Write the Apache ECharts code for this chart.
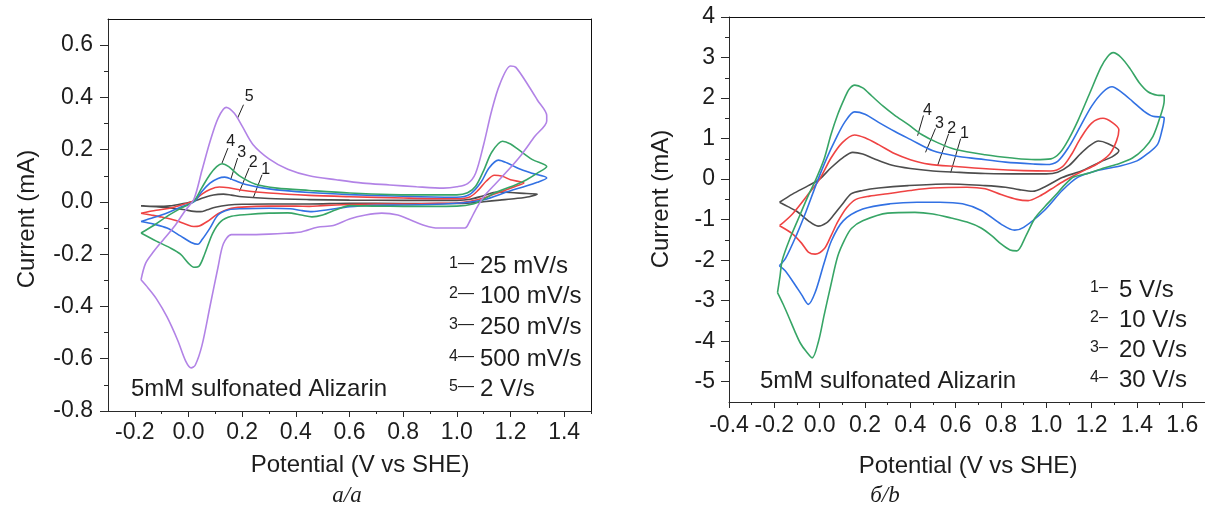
<!DOCTYPE html>
<html>
<head>
<meta charset="utf-8">
<title>Cyclic voltammetry of 5mM sulfonated Alizarin</title>
<script src="https://cdn.jsdelivr.net/npm/echarts@6/dist/echarts.min.js"></script>
<style>
  html, body { margin: 0; padding: 0; background: #fff; }
  #chart { width: 1205px; height: 521px; }
</style>
</head>
<body>
<div id="chart"></div>
<script>
// ---------- Panel а/a : slow scans, [potential V vs SHE, current mA] ----------
const cvA_25mV = [[-0.177,-0.015],[-0.12,-0.017],[-0.07,-0.015],[-0.02,-0.006],[0.02,0.003],[0.05,0.014],[0.08,0.024],[0.11,0.029],[0.13,0.03],[0.16,0.026],[0.2,0.02],[0.3,0.013],[0.45,0.009],[0.6,0.007],[0.8,0.006],[1.0,0.006],[1.05,0.01],[1.1,0.024],[1.15,0.038],[1.2,0.036],[1.26,0.032],[1.3,0.03],
  [1.27,0.02],[1.22,0.013],[1.16,0.007],[1.1,0.001],[1.05,-0.004],[1.0,-0.006],[0.8,-0.006],[0.6,-0.005],[0.45,-0.008],[0.3,-0.008],[0.2,-0.009],[0.15,-0.012],[0.1,-0.02],[0.07,-0.03],[0.045,-0.037],[0.02,-0.036],[-0.02,-0.029],[-0.07,-0.023],[-0.12,-0.018],[-0.177,-0.015]];
const cvA_100mV = [[-0.177,-0.043],[-0.12,-0.032],[-0.07,-0.024],[-0.02,-0.01],[0.02,0.005],[0.05,0.03],[0.08,0.048],[0.115,0.057],[0.15,0.054],[0.2,0.045],[0.3,0.034],[0.45,0.025],[0.6,0.02],[0.8,0.015],[1.0,0.012],[1.05,0.02],[1.08,0.045],[1.11,0.08],[1.14,0.102],[1.17,0.098],[1.2,0.085],[1.25,0.072],
  [1.22,0.06],[1.18,0.045],[1.14,0.03],[1.1,0.015],[1.05,0.002],[1.0,-0.004],[0.9,-0.006],[0.8,-0.008],[0.7,-0.008],[0.6,-0.01],[0.5,-0.014],[0.45,-0.017],[0.4,-0.016],[0.3,-0.016],[0.2,-0.02],[0.15,-0.027],[0.11,-0.045],[0.07,-0.075],[0.04,-0.092],[0.02,-0.094],[-0.01,-0.085],[-0.05,-0.07],[-0.1,-0.058],[-0.14,-0.05],[-0.177,-0.043]];
const cvA_250mV = [[-0.177,-0.075],[-0.13,-0.06],[-0.08,-0.042],[-0.03,-0.02],[0.02,0.0],[0.05,0.04],[0.08,0.072],[0.11,0.09],[0.135,0.095],[0.17,0.083],[0.21,0.068],[0.3,0.05],[0.45,0.036],[0.6,0.028],[0.8,0.022],[1.0,0.018],[1.05,0.03],[1.09,0.075],[1.12,0.13],[1.155,0.16],[1.19,0.148],[1.23,0.128],[1.28,0.11],[1.335,0.092],
  [1.3,0.075],[1.25,0.058],[1.2,0.043],[1.15,0.025],[1.1,0.008],[1.05,0.0],[1.0,-0.005],[0.9,-0.01],[0.8,-0.012],[0.7,-0.013],[0.6,-0.018],[0.52,-0.03],[0.46,-0.037],[0.42,-0.033],[0.38,-0.026],[0.3,-0.024],[0.2,-0.026],[0.15,-0.03],[0.11,-0.05],[0.08,-0.1],[0.05,-0.145],[0.035,-0.162],[0.01,-0.155],[-0.03,-0.13],[-0.08,-0.1],[-0.13,-0.085],[-0.177,-0.075]];
const cvA_500mV = [[-0.177,-0.119],[-0.13,-0.09],[-0.08,-0.055],[-0.03,-0.025],[0.02,0.003],[0.05,0.055],[0.08,0.105],[0.105,0.135],[0.125,0.146],[0.15,0.135],[0.19,0.1],[0.25,0.068],[0.33,0.053],[0.45,0.044],[0.6,0.034],[0.75,0.028],[0.9,0.027],[1.0,0.027],[1.04,0.035],[1.07,0.06],[1.1,0.12],[1.13,0.19],[1.17,0.232],[1.2,0.222],[1.23,0.2],[1.28,0.163],[1.335,0.136],
  [1.3,0.11],[1.26,0.085],[1.22,0.066],[1.18,0.05],[1.14,0.034],[1.1,0.01],[1.06,-0.008],[1.0,-0.016],[0.9,-0.017],[0.8,-0.017],[0.7,-0.016],[0.6,-0.014],[0.55,-0.03],[0.5,-0.05],[0.46,-0.057],[0.42,-0.05],[0.37,-0.042],[0.3,-0.043],[0.22,-0.048],[0.16,-0.055],[0.12,-0.075],[0.09,-0.12],[0.06,-0.2],[0.04,-0.245],[0.02,-0.25],[0.0,-0.235],[-0.03,-0.2],[-0.07,-0.175],[-0.12,-0.15],[-0.177,-0.119]];
const cvA_2V = [[-0.177,-0.298],[-0.16,-0.235],[-0.13,-0.19],[-0.09,-0.14],[-0.05,-0.09],[-0.01,-0.03],[0.02,0.01],[0.05,0.12],[0.08,0.23],[0.11,0.32],[0.14,0.362],[0.17,0.34],[0.2,0.29],[0.24,0.22],[0.3,0.165],[0.37,0.125],[0.45,0.1],[0.55,0.085],[0.65,0.072],[0.75,0.065],[0.85,0.058],[0.95,0.053],[1.0,0.058],[1.04,0.07],[1.07,0.11],[1.1,0.22],[1.13,0.35],[1.16,0.45],[1.2,0.52],[1.22,0.515],[1.27,0.44],[1.3,0.39],[1.335,0.33],
  [1.335,0.31],[1.29,0.25],[1.24,0.18],[1.19,0.12],[1.14,0.065],[1.1,0.02],[1.07,-0.03],[1.05,-0.07],[1.03,-0.1],[0.98,-0.1],[0.93,-0.1],[0.88,-0.09],[0.83,-0.07],[0.78,-0.05],[0.72,-0.043],[0.66,-0.05],[0.6,-0.065],[0.54,-0.09],[0.48,-0.097],[0.42,-0.115],[0.36,-0.12],[0.3,-0.123],[0.22,-0.125],[0.16,-0.125],[0.13,-0.16],[0.11,-0.25],[0.08,-0.4],[0.05,-0.55],[0.025,-0.625],[0.01,-0.635],[-0.01,-0.61],[-0.04,-0.53],[-0.08,-0.44],[-0.12,-0.37],[-0.15,-0.33],[-0.177,-0.298]];

// ---------- Panel б/b : fast scans ----------
const cvB_5V = [[-0.177,-0.57],[-0.12,-0.37],[-0.05,-0.16],[0.0,0.0],[0.05,0.28],[0.1,0.52],[0.146,0.66],[0.19,0.62],[0.24,0.5],[0.32,0.34],[0.4,0.26],[0.5,0.2],[0.6,0.17],[0.73,0.14],[0.9,0.13],[1.0,0.13],[1.05,0.17],[1.1,0.33],[1.15,0.62],[1.19,0.82],[1.23,0.94],[1.27,0.88],[1.32,0.7],
  [1.29,0.55],[1.24,0.43],[1.16,0.21],[1.07,0.04],[0.99,-0.2],[0.94,-0.3],[0.88,-0.26],[0.82,-0.2],[0.73,-0.16],[0.56,-0.12],[0.39,-0.16],[0.26,-0.22],[0.19,-0.28],[0.14,-0.36],[0.1,-0.62],[0.06,-0.9],[0.03,-1.08],[-0.007,-1.16],[-0.05,-1.03],[-0.1,-0.8],[-0.14,-0.68],[-0.177,-0.57]];
const cvB_10V = [[-0.177,-1.15],[-0.12,-0.86],[-0.05,-0.37],[0.0,0.0],[0.05,0.52],[0.1,0.9],[0.154,1.09],[0.2,1.02],[0.26,0.85],[0.33,0.63],[0.4,0.48],[0.48,0.37],[0.6,0.31],[0.75,0.25],[0.9,0.21],[1.02,0.2],[1.07,0.3],[1.11,0.6],[1.15,1.0],[1.2,1.38],[1.25,1.5],[1.29,1.4],[1.32,1.22],
  [1.31,0.95],[1.28,0.62],[1.22,0.36],[1.15,0.17],[1.08,-0.04],[1.02,-0.25],[0.97,-0.42],[0.92,-0.53],[0.87,-0.5],[0.8,-0.38],[0.73,-0.24],[0.65,-0.2],[0.5,-0.22],[0.4,-0.28],[0.3,-0.36],[0.22,-0.42],[0.16,-0.5],[0.12,-0.7],[0.08,-1.05],[0.05,-1.4],[0.02,-1.72],[-0.02,-1.85],[-0.05,-1.8],[-0.08,-1.58],[-0.12,-1.35],[-0.177,-1.15]];
const cvB_20V = [[-0.178,-2.14],[-0.15,-1.95],[-0.1,-1.35],[-0.06,-0.8],[-0.01,-0.05],[0.03,0.5],[0.07,0.98],[0.11,1.4],[0.154,1.66],[0.2,1.6],[0.26,1.4],[0.33,1.18],[0.4,0.98],[0.5,0.7],[0.6,0.57],[0.7,0.5],[0.82,0.42],[0.95,0.37],[1.0,0.36],[1.05,0.44],[1.1,0.8],[1.15,1.3],[1.2,1.8],[1.25,2.15],[1.29,2.28],[1.33,2.15],[1.38,1.92],[1.43,1.68],[1.47,1.55],[1.52,1.51],
  [1.51,1.2],[1.49,0.85],[1.445,0.62],[1.4,0.45],[1.33,0.33],[1.225,0.21],[1.14,0.05],[1.07,-0.28],[0.99,-0.78],[0.9,-1.19],[0.86,-1.26],[0.8,-1.11],[0.715,-0.78],[0.63,-0.61],[0.53,-0.57],[0.43,-0.57],[0.31,-0.61],[0.19,-0.74],[0.104,-1.03],[0.052,-1.52],[0.018,-2.1],[-0.02,-2.8],[-0.05,-3.09],[-0.08,-2.85],[-0.1,-2.68],[-0.152,-2.26],[-0.178,-2.14]];
const cvB_30V = [[-0.186,-2.8],[-0.175,-2.4],[-0.165,-2.0],[-0.13,-1.45],[-0.085,-0.86],[-0.05,-0.4],[-0.016,0.0],[0.02,0.5],[0.05,1.1],[0.08,1.6],[0.11,2.0],[0.13,2.22],[0.155,2.32],[0.19,2.25],[0.23,2.05],[0.28,1.8],[0.33,1.58],[0.39,1.35],[0.45,1.1],[0.52,0.9],[0.6,0.73],[0.73,0.6],[0.85,0.52],[0.95,0.48],[1.02,0.5],[1.06,0.65],[1.1,1.0],[1.14,1.45],[1.19,2.1],[1.24,2.75],[1.27,3.02],[1.295,3.12],[1.33,3.0],[1.37,2.72],[1.41,2.38],[1.45,2.15],[1.49,2.07],[1.52,2.06],
  [1.52,1.94],[1.5,1.5],[1.47,1.05],[1.43,0.75],[1.38,0.52],[1.32,0.38],[1.25,0.27],[1.19,0.15],[1.12,0.05],[1.08,-0.15],[1.04,-0.4],[0.99,-0.7],[0.95,-0.96],[0.91,-1.4],[0.87,-1.77],[0.84,-1.75],[0.8,-1.6],[0.76,-1.4],[0.71,-1.2],[0.65,-1.06],[0.58,-0.96],[0.5,-0.86],[0.42,-0.82],[0.3,-0.84],[0.19,-1.03],[0.14,-1.22],[0.11,-1.5],[0.08,-1.9],[0.05,-2.6],[0.02,-3.35],[-0.005,-4.0],[-0.033,-4.41],[-0.06,-4.25],[-0.085,-4.05],[-0.11,-3.75],[-0.135,-3.42],[-0.16,-3.1],[-0.186,-2.8]];

// ---------- tick values ----------
const ticksA_x = [-0.2, 0.0, 0.2, 0.4, 0.6, 0.8, 1.0, 1.2, 1.4];
const minorA_x = [-0.1, 0.1, 0.3, 0.5, 0.7, 0.9, 1.1, 1.3, 1.5];
const ticksA_y = [-0.8, -0.6, -0.4, -0.2, 0.0, 0.2, 0.4, 0.6];
const minorA_y = [-0.7, -0.5, -0.3, -0.1, 0.1, 0.3, 0.5];
const ticksB_x = [-0.4, -0.2, 0.0, 0.2, 0.4, 0.6, 0.8, 1.0, 1.2, 1.4, 1.6];
const minorB_x = [-0.3, -0.1, 0.1, 0.3, 0.5, 0.7, 0.9, 1.1, 1.3, 1.5];
const ticksB_y = [-5, -4, -3, -2, -1, 0, 1, 2, 3, 4];
const minorB_y = [-4.5, -3.5, -2.5, -1.5, -0.5, 0.5, 1.5, 2.5, 3.5];

// ---------- legends ----------
const legendA = ['25 mV/s', '100 mV/s', '250 mV/s', '500 mV/s', '2 V/s'];
const legendB = ['5 V/s', '10 V/s', '20 V/s', '30 V/s'];
const colorsA = ['#4d4d4d', '#ef4343', '#3271e3', '#37a566', '#b283e6'];
const colorsB = ['#4d4d4d', '#ef4343', '#3271e3', '#37a566'];

const FONT = "'Liberation Sans', Arial, Helvetica, sans-serif";
const INK = '#1d1d1d';
const AXIS = '#2a2a2a';

const fmt1 = v => (Math.round(v * 10) / 10).toFixed(1);
const fmt0 = v => String(Math.round(v));

function mainX(grid, min, max, ticks, minor, margin) {
  return [
    { type: 'value', gridIndex: grid, position: 'bottom', min, max,
      axisLine: { show: true, onZero: false, lineStyle: { color: AXIS, width: 1 } },
      axisTick: { show: true, inside: false, length: 6, customValues: ticks, lineStyle: { color: AXIS } },
      axisLabel: { show: true, customValues: ticks, margin, fontSize: 23, fontFamily: FONT, color: INK, formatter: fmt1 },
      splitLine: { show: false } },
    { type: 'value', gridIndex: grid, position: 'bottom', min, max,
      axisLine: { show: false, onZero: false },
      axisTick: { show: true, inside: false, length: 3, customValues: minor, lineStyle: { color: AXIS } },
      axisLabel: { show: false }, splitLine: { show: false } }
  ];
}
function mainY(grid, min, max, ticks, minor, margin, fmt) {
  return [
    { type: 'value', gridIndex: grid, position: 'left', min, max,
      axisLine: { show: true, onZero: false, lineStyle: { color: AXIS, width: 1 } },
      axisTick: { show: true, inside: false, length: 8, customValues: ticks, lineStyle: { color: AXIS } },
      axisLabel: { show: true, customValues: ticks, margin, fontSize: 23, fontFamily: FONT, color: INK, formatter: fmt },
      splitLine: { show: false } },
    { type: 'value', gridIndex: grid, position: 'left', min, max,
      axisLine: { show: false, onZero: false },
      axisTick: { show: true, inside: false, length: 4, customValues: minor, lineStyle: { color: AXIS } },
      axisLabel: { show: false }, splitLine: { show: false } }
  ];
}
function frame(grid, min, max, position) {
  return { type: 'value', gridIndex: grid, position, min, max,
    axisLine: { show: true, onZero: false, lineStyle: { color: '#111', width: 1 } },
    axisTick: { show: false }, axisLabel: { show: false }, splitLine: { show: false } };
}

const xAxes = [
  ...mainX(0, -0.3, 1.5, ticksA_x, minorA_x, 10), frame(0, -0.3, 1.5, 'top'),
  ...mainX(1, -0.4, 1.7, ticksB_x, minorB_x, 12), frame(1, -0.4, 1.7, 'top')
];
const yAxes = [
  ...mainY(0, -0.8, 0.7, ticksA_y, minorA_y, 15, fmt1), frame(0, -0.8, 0.7, 'right'),
  ...mainY(1, -5.5, 4, ticksB_y, minorB_y, 14, fmt0)
];

function cv(name, data, color, xi, yi) {
  return { type: 'line', name, data, xAxisIndex: xi, yAxisIndex: yi,
    showSymbol: false, symbol: 'none', smooth: 0.3, clip: true,
    lineStyle: { color, width: 1.6 }, silent: true };
}

const series = [
  cv(legendA[0], cvA_25mV, colorsA[0], 0, 0),
  cv(legendA[1], cvA_100mV, colorsA[1], 0, 0),
  cv(legendA[2], cvA_250mV, colorsA[2], 0, 0),
  cv(legendA[3], cvA_500mV, colorsA[3], 0, 0),
  cv(legendA[4], cvA_2V, colorsA[4], 0, 0),
  cv(legendB[0], cvB_5V, colorsB[0], 3, 3),
  cv(legendB[1], cvB_10V, colorsB[1], 3, 3),
  cv(legendB[2], cvB_20V, colorsB[2], 3, 3),
  cv(legendB[3], cvB_30V, colorsB[3], 3, 3)
];

const chart = echarts.init(document.getElementById('chart'), null, { renderer: 'canvas' });
chart.setOption({
  animation: false,
  backgroundColor: '#fff',
  grid: [
    { left: 108, top: 19, right: 614, bottom: 110 },
    { left: 729, top: 17, right: -1, bottom: 119 }
  ],
  xAxis: xAxes,
  yAxis: yAxes,
  series
});

// curve number tags with leader lines, anchored in data space
const tagsA = [
  { label: '5', at: [0.226, 0.404], from: [0.205, 0.372], to: [0.183, 0.321] },
  { label: '4', at: [0.157, 0.232], from: [0.147, 0.206], to: [0.125, 0.149] },
  { label: '3', at: [0.198, 0.187], from: [0.183, 0.168], to: [0.157, 0.085] },
  { label: '2', at: [0.241, 0.151], from: [0.226, 0.130], to: [0.190, 0.040] },
  { label: '1', at: [0.288, 0.123], from: [0.274, 0.104], to: [0.241, 0.015] }
];
const tagsB = [
  { label: '4', at: [0.476, 1.69], from: [0.458, 1.57], to: [0.432, 1.07] },
  { label: '3', at: [0.529, 1.37], from: [0.511, 1.25], to: [0.467, 0.66] },
  { label: '2', at: [0.582, 1.25], from: [0.569, 1.12], to: [0.520, 0.33] },
  { label: '1', at: [0.639, 1.12], from: [0.622, 1.00], to: [0.578, 0.16] }
];

function text(x, y, str, font, align, vAlign, extra) {
  return Object.assign({ type: 'text', x, y, silent: true,
    style: { text: str, font, fill: INK, textAlign: align, textVerticalAlign: vAlign, align, verticalAlign: vAlign } }, extra || {});
}

const graphics = [];
function addTags(tags, gridIndex) {
  tags.forEach(t => {
    const p = chart.convertToPixel({ gridIndex }, t.at);
    const a = chart.convertToPixel({ gridIndex }, t.from);
    const b = chart.convertToPixel({ gridIndex }, t.to);
    graphics.push(text(p[0], p[1], t.label, `16px ${FONT}`, 'center', 'middle'));
    graphics.push({ type: 'line', silent: true, shape: { x1: a[0], y1: a[1], x2: b[0], y2: b[1] },
      style: { stroke: '#222', lineWidth: 1 } });
  });
}
addTags(tagsA, 0);
addTags(tagsB, 1);

// scan-rate legends: small index + dash, then the rate
const rowsA = [266, 296, 327, 359, 389];
legendA.forEach((s, i) => {
  graphics.push(text(449, rowsA[i] - 2, (i + 1) + '\u2014', `16px ${FONT}`, 'left', 'middle'));
  graphics.push(text(480, rowsA[i], s, `24px ${FONT}`, 'left', 'middle'));
});
const rowsB = [290, 320, 350, 380];
legendB.forEach((s, i) => {
  graphics.push(text(1090, rowsB[i] - 2, (i + 1) + '\u2013', `16px ${FONT}`, 'left', 'middle'));
  graphics.push(text(1119, rowsB[i], s, `24px ${FONT}`, 'left', 'middle'));
});

// sample notes
graphics.push(text(131, 389, '5mM sulfonated Alizarin', `24px ${FONT}`, 'left', 'middle'));
graphics.push(text(760, 381, '5mM sulfonated Alizarin', `24px ${FONT}`, 'left', 'middle'));

// axis titles
graphics.push(text(360, 465, 'Potential (V vs SHE)', `24px ${FONT}`, 'center', 'middle'));
graphics.push(text(968, 466, 'Potential (V vs SHE)', `24px ${FONT}`, 'center', 'middle'));
graphics.push(text(27, 219, 'Current (mA)', `24px ${FONT}`, 'center', 'middle', { rotation: Math.PI / 2 }));
graphics.push(text(661, 199, 'Current (mA)', `24px ${FONT}`, 'center', 'middle', { rotation: Math.PI / 2 }));

// panel captions
graphics.push(text(347, 496, '\u0430/a', `italic 23px 'Liberation Serif', 'Times New Roman', serif`, 'center', 'middle'));
graphics.push(text(885, 496, '\u0431/b', `italic 23px 'Liberation Serif', 'Times New Roman', serif`, 'center', 'middle'));

chart.setOption({ graphic: graphics });
</script>
</body>
</html>
